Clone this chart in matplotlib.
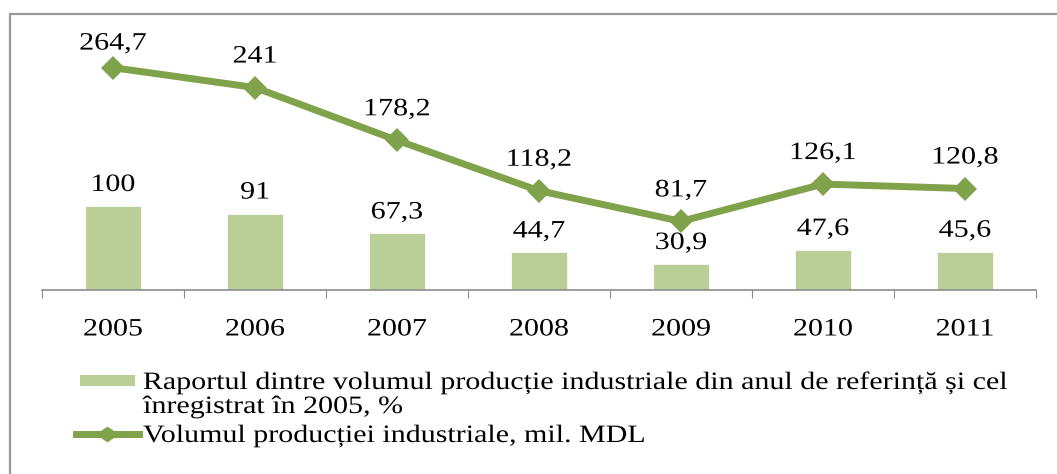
import matplotlib.pyplot as plt
from matplotlib.patches import Rectangle
from matplotlib.lines import Line2D
from matplotlib.patheffects import AbstractPathEffect
from matplotlib.transforms import Affine2D

## chart data
years = ['2005', '2006', '2007', '2008', '2009', '2010', '2011']
raport = [100, 91, 67.3, 44.7, 30.9, 47.6, 45.6]
volum = [264.7, 241, 178.2, 118.2, 81.7, 126.1, 120.8]
raport_labels = ['100', '91', '67,3', '44,7', '30,9', '47,6', '45,6']
volum_labels = ['264,7', '241', '178,2', '118,2', '81,7', '126,1', '120,8']
legend_bar = ['Raportul dintre volumul producție industriale din anul de referință și cel',
              'înregistrat în 2005, %']
legend_line = 'Volumul producției industriale, mil. MDL'

bar_color = '#BACF98'
line_color = '#80A24A'
grey = '#999999'
W, H = 1057, 474


class Widen(AbstractPathEffect):
    ## the original text is drawn a bit wider than Times, stretch it horizontally
    def __init__(self, factor=1.2, anchor='center'):
        super().__init__()
        self.factor = factor
        self.anchor = anchor

    def draw_path(self, renderer, gc, tpath, affine, rgbFace=None):
        ext = tpath.get_extents(affine)
        x0 = ext.x0 if self.anchor == 'left' else (ext.x0 + ext.x1) / 2
        stretch = affine + Affine2D().translate(-x0, 0).scale(self.factor, 1).translate(x0, 0)
        renderer.draw_path(gc, tpath, stretch, rgbFace)


plt.rcParams['font.family'] = 'Liberation Serif'
fig = plt.figure(figsize=(W / 100, H / 100), dpi=100)

## outer frame (right and bottom edges are cut off in the original)
fig.patches.append(Rectangle((9.5 / W, -0.1), 1.2, (H - 13.5) / H + 0.1,
                             transform=fig.transFigure, fill=False,
                             edgecolor=grey, linewidth=1.6))

ax = fig.add_axes([42 / W, (H - 290) / H, 994 / W, 252 / H])
x = list(range(len(years)))
ax.bar(x, raport, width=0.39, color=bar_color, edgecolor='white', linewidth=0.5)
ax.plot(x, volum, color=line_color, linewidth=5, marker='D', markersize=12, markeredgewidth=0)

## data labels (the first one sits a little closer to its point, as in the original)
for i in x:
    ax.annotate(raport_labels[i], (i, raport[i]), xytext=(0, 10.8), textcoords='offset points',
                ha='center', va='baseline', fontsize=18, path_effects=[Widen()])
    off = 13 if i == 0 else 18
    ax.annotate(volum_labels[i], (i, volum[i]), xytext=(0, off), textcoords='offset points',
                ha='center', va='baseline', fontsize=18, path_effects=[Widen()])

## axis aesthetics
ax.set_xlim(-0.5, len(years) - 0.5)
ax.set_ylim(0, 300)
ax.set_xticks([i - 0.5 for i in range(len(years) + 1)])
ax.set_xticklabels([])
ax.set_xticks(x, minor=True)
ax.set_xticklabels(years, minor=True, fontsize=18)
for t in ax.get_xticklabels(minor=True):
    t.set_path_effects([Widen()])
ax.tick_params(axis='x', which='major', direction='out', length=6, color='#8C8C8C')
ax.tick_params(axis='x', which='minor', length=0, pad=20.5)
ax.set_yticks([])
for s in ['top', 'right', 'left']:
    ax.spines[s].set_visible(False)
ax.spines['bottom'].set_color('#8C8C8C')
ax.spines['bottom'].set_linewidth(1.2)
ax.patch.set_alpha(0)

## legend, drawn by hand so the handle sits on the first line of the wrapped label
def fx(px):
    return px / W

def fy(py):
    return 1 - py / H

fig.patches.append(Rectangle((fx(80), fy(386)), fx(55), 11 / H, transform=fig.transFigure,
                             facecolor=bar_color, edgecolor='none'))
flat_diamond = [(-1.5, 0), (0, 1), (1.5, 0), (0, -1), (-1.5, 0)]
fig.lines.append(Line2D([fx(76), fx(139)], [fy(434), fy(434)], transform=fig.transFigure,
                        color=line_color, linewidth=5))
fig.lines.append(Line2D([fx(107)], [fy(434)], transform=fig.transFigure, color=line_color,
                        marker=flat_diamond, markersize=17, markeredgewidth=0, linestyle='none'))
for txt, base in [(legend_bar[0], 389), (legend_bar[1], 413), (legend_line, 442)]:
    fig.text(fx(143), fy(base), txt, fontsize=18, ha='left', va='baseline',
             path_effects=[Widen(anchor='left')])

plt.savefig('out.png', dpi=100)
plt.close()
